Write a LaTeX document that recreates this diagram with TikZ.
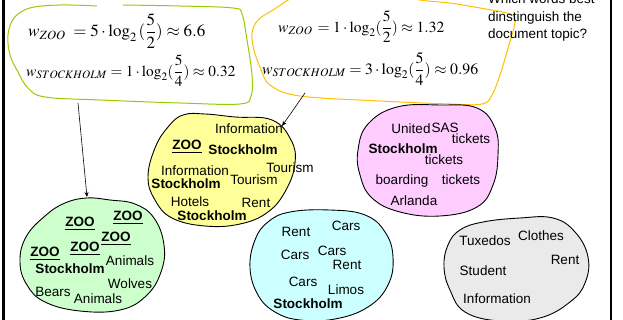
\documentclass[tikz,border=0pt]{standalone}
\usepackage{amsmath}
\usepackage{mathptmx}
\usepackage[no-math]{fontspec}
\setmainfont{Liberation Sans}
\usetikzlibrary{arrows.meta}
\definecolor{zoogreen}{HTML}{CCFFCC}
\definecolor{cityyellow}{HTML}{FFFF99}
\definecolor{flightpink}{HTML}{FFCCFF}
\definecolor{carcyan}{HTML}{CCFFFF}
\definecolor{suitgray}{HTML}{EAEAEA}
\definecolor{limeline}{HTML}{99CC00}
\definecolor{orangeline}{HTML}{FFC000}

\begin{document}
\begin{tikzpicture}[x=1pt, y=-1pt,
  word/.style={inner sep=0pt, text height=9.7pt, text depth=0pt, font=\fontsize{13.5}{16}\selectfont},
  bword/.style={word, font=\fontsize{13.5}{16}\selectfont\bfseries},
  zooword/.style={bword},
  blob/.style={draw=black, line width=0.9pt},
  hand/.style={line width=1pt},
  formula/.style={inner sep=0pt, anchor=west},
  arr/.style={-{Stealth[length=5pt,width=4pt]}, line width=0.6pt}
]
\fill[white] (0,0) rectangle (623,320);
\useasboundingbox (0,0) rectangle (623,320);

% side rules
\draw[line width=2.5pt] (3.5,0) -- (3.5,320);
\draw[line width=2.5pt] (611.2,0) -- (611.2,320);

% hand drawn outlines round the weights
\draw[hand, limeline] plot[smooth, tension=0.6] coordinates {(97,6) (60,5) (30,8) (14,18) (8,35) (10,55) (18,72) (28,88) (45,97) (100,100) (180,103) (240,104) (251,96) (252,75) (247,40) (242,14) (233,8) (180,6) (123,5)};
\draw[hand, orangeline] plot[smooth cycle, tension=0.6] coordinates {(300,-6) (273,10) (258,20) (252,33) (254,50) (260,67) (270,85) (300,96) (380,101) (450,104) (482,104) (492,95) (500,75) (508,48) (515,22) (510,14) (480,8) (450,3) (420,0) (380,-8) (330,-10)};

% weights
\node[formula, font=\fontsize{17}{20}\selectfont] (zooWeightA) at (28,31)
  {$w_{ZOO}\; = 5\cdot\log_2\,(\dfrac{5}{2}) \approx 6.6$};
\node[formula, font=\fontsize{15.3}{18}\selectfont] (sthlmWeightA) at (26,71)
  {$w_{STOCKHOLM} = 1\cdot\log_2(\dfrac{5}{4}) \approx 0.32$};
\node[formula, font=\fontsize{15.5}{18}\selectfont] (zooWeightB) at (278,27)
  {$w_{ZOO}\, = 1\cdot\log_2(\dfrac{5}{2}) \approx 1.32$};
\node[formula, font=\fontsize{15.8}{19}\selectfont] (sthlmWeightB) at (262,69)
  {$w_{STOCKHOLM} = 3\cdot\log_2(\dfrac{5}{4}) \approx 0.96$};

% question
\node[inner sep=0pt, anchor=west, align=left, font=\fontsize{13.5}{17.5}\selectfont] (question) at (488,18)
  {Which words best\\dinstinguish the\\document topic?};

% documents
\draw[blob, fill=cityyellow] plot[smooth cycle, tension=0.7] coordinates {(183,115) (205,114) (235,117) (272,120) (291,140) (295,163) (286,190) (268,212) (240,224) (205,226) (172,218) (155,200) (148,177) (155,148) (168,127)};
\draw[blob, fill=flightpink] plot[smooth cycle, tension=0.7] coordinates {(397,107) (440,105) (477,108) (495,128) (498,155) (493,185) (477,207) (440,216) (400,212) (372,198) (360,175) (358,150) (368,124)};
\draw[blob, fill=zoogreen] plot[smooth cycle, tension=0.7] coordinates {(87,198) (110,200) (135,204) (154,218) (164,245) (161,272) (146,296) (120,310) (80,311) (45,302) (27,285) (20,262) (26,237) (45,216) (65,203)};
\draw[blob, fill=carcyan] plot[smooth cycle, tension=0.7] coordinates {(290,212) (330,210) (365,215) (385,232) (393,257) (388,285) (368,307) (335,319) (300,320) (275,312) (258,295) (250,268) (255,240) (268,222)};
\draw[blob, fill=suitgray] plot[smooth cycle, tension=0.7] coordinates {(483,222) (520,218) (553,218) (575,232) (588,257) (585,283) (570,302) (540,318) (500,321) (465,312) (450,290) (444,267) (448,245) (460,230)};

% words, city document
\node[word] (cityInfoA) at (249,129) {Information};
\node[zooword] (cityZoo) at (187,145) {\underline{ZOO}};
\node[bword] (citySthlmA) at (243,150) {Stockholm};
\node[word] (cityInfoB) at (195,171) {Information};
\node[word] (cityTourA) at (290,168) {Tourism};
\node[bword] (citySthlmB) at (186,184) {Stockholm};
\node[word] (cityTourB) at (254,180) {Tourism};
\node[word] (cityHotels) at (190,202) {Hotels};
\node[word] (cityRent) at (256,203) {Rent};
\node[bword] (citySthlmC) at (212,216) {Stockholm};

% words, flight document
\node[word] (flightUnited) at (411,129) {United};
\node[word] (flightSas) at (445,128) {SAS};
\node[word] (flightTicketA) at (471,139) {tickets};
\node[bword] (flightSthlm) at (403,149) {Stockholm};
\node[word] (flightTicketB) at (444,160) {tickets};
\node[word] (flightBoarding) at (402,180) {boarding};
\node[word] (flightTicketC) at (461,180) {tickets};
\node[word] (flightArlanda) at (414,201) {Arlanda};

% words, zoo document
\node[zooword] (zooA) at (80,222) {\underline{ZOO}};
\node[zooword] (zooB) at (128,216) {\underline{ZOO}};
\node[zooword] (zooC) at (116,237) {\underline{ZOO}};
\node[zooword] (zooD) at (85,247) {\underline{ZOO}};
\node[zooword] (zooE) at (45,252) {\underline{ZOO}};
\node[bword] (zooSthlm) at (70,269) {Stockholm};
\node[word] (zooAnimalsA) at (130,261) {Animals};
\node[word] (zooWolves) at (130,284) {Wolves};
\node[word] (zooBears) at (53,292) {Bears};
\node[word] (zooAnimalsB) at (98,299) {Animals};

% words, car document
\node[word] (carRentA) at (296,232) {Rent};
\node[word] (carCarsA) at (346,226) {Cars};
\node[word] (carCarsB) at (295,255) {Cars};
\node[word] (carCarsC) at (332,251) {Cars};
\node[word] (carRentB) at (347,265) {Rent};
\node[word] (carCarsD) at (303,282) {Cars};
\node[word] (carLimos) at (346,290) {Limos};
\node[bword] (carSthlm) at (308,304) {Stockholm};

% words, suit document
\node[word] (suitTuxedos) at (485,241) {Tuxedos};
\node[word] (suitClothes) at (541,236) {Clothes};
\node[word] (suitRent) at (565,260) {Rent};
\node[word] (suitStudent) at (483,271) {Student};
\node[word] (suitInfo) at (497,299) {Information};

% pointers
\coordinate (zooGroup) at (78,103);
\coordinate (zooDoc) at (87,197);
\coordinate (cityGroup) at (305,93);
\coordinate (cityDoc) at (282,126);
\draw[arr] (zooGroup) -- (zooDoc);
\draw[arr] (cityGroup) -- (cityDoc);
\end{tikzpicture}
\end{document}
